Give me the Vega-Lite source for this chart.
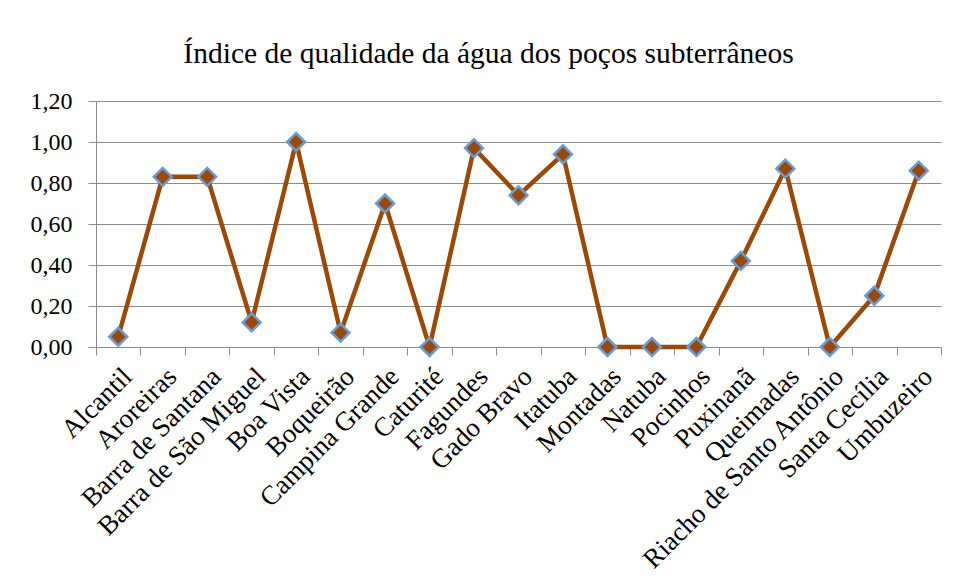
{
  "$schema": "https://vega.github.io/schema/vega-lite/v6.json",
  "autosize": "none",
  "width": 845,
  "height": 246,
  "padding": {"left": 96, "top": 101, "right": 16, "bottom": 239},
  "background": "white",
  "config": {
    "locale": {"number": {"decimal": ",", "thousands": ".", "grouping": [3], "currency": ["R$ ", ""]}},
    "view": {"stroke": null},
    "font": "Liberation Serif"
  },
  "title": {
    "text": "Índice de qualidade da água dos poços subterrâneos",
    "font": "Liberation Serif",
    "fontSize": 29.5,
    "fontWeight": "normal",
    "color": "#000000",
    "anchor": "middle",
    "frame": "group",
    "dx": -30,
    "baseline": "alphabetic",
    "offset": -3
  },
  "data": {
    "values": [
      {"poco": "Alcantil", "iqa": 0.05},
      {"poco": "Aroreiras", "iqa": 0.83},
      {"poco": "Barra de Santana", "iqa": 0.83},
      {"poco": "Barra de São Miguel", "iqa": 0.12},
      {"poco": "Boa Vista", "iqa": 1.00},
      {"poco": "Boqueirão", "iqa": 0.07},
      {"poco": "Campina Grande", "iqa": 0.70},
      {"poco": "Caturité", "iqa": 0.00},
      {"poco": "Fagundes", "iqa": 0.97},
      {"poco": "Gado Bravo", "iqa": 0.74},
      {"poco": "Itatuba", "iqa": 0.94},
      {"poco": "Montadas", "iqa": 0.00},
      {"poco": "Natuba", "iqa": 0.00},
      {"poco": "Pocinhos", "iqa": 0.00},
      {"poco": "Puxinanã", "iqa": 0.42},
      {"poco": "Queimadas", "iqa": 0.87},
      {"poco": "Riacho de Santo Antônio", "iqa": 0.00},
      {"poco": "Santa Cecília", "iqa": 0.25},
      {"poco": "Umbuzeiro", "iqa": 0.86}
    ]
  },
  "encoding": {
    "x": {
      "field": "poco",
      "type": "nominal",
      "sort": null,
      "bandPosition": 0.5,
      "scale": {"type": "band", "paddingInner": 0, "paddingOuter": 0},
      "axis": {
        "title": null,
        "tickBand": "extent",
        "labelAngle": -45,
        "labelFont": "Liberation Serif",
        "labelFontSize": 27,
        "labelColor": "#000000",
        "labelPadding": 8,
        "labelLimit": 500,
        "tickSize": 8,
        "tickColor": "#8c8c8c",
        "domainColor": "#8c8c8c",
        "grid": false,
        "labelOverlap": false
      }
    },
    "y": {
      "field": "iqa",
      "type": "quantitative",
      "scale": {"domain": [0, 1.2], "nice": false},
      "axis": {
        "title": null,
        "values": [0, 0.2, 0.4, 0.6, 0.8, 1.0, 1.2],
        "format": ".2f",
        "labelFont": "Liberation Serif",
        "labelFontSize": 24,
        "labelColor": "#000000",
        "labelPadding": 16,
        "tickSize": 8,
        "tickColor": "#8c8c8c",
        "domainColor": "#8c8c8c",
        "gridColor": "#8c8c8c",
        "gridWidth": 1.2,
        "grid": true
      }
    }
  },
  "layer": [
    {"mark": {"type": "line", "color": "#9A4A06", "strokeWidth": 4.5}},
    {"mark": {"type": "point", "shape": "diamond", "filled": true, "size": 320, "fill": "#9A4A06", "stroke": "#6A9BD3", "strokeWidth": 2.5, "opacity": 1}}
  ]
}
